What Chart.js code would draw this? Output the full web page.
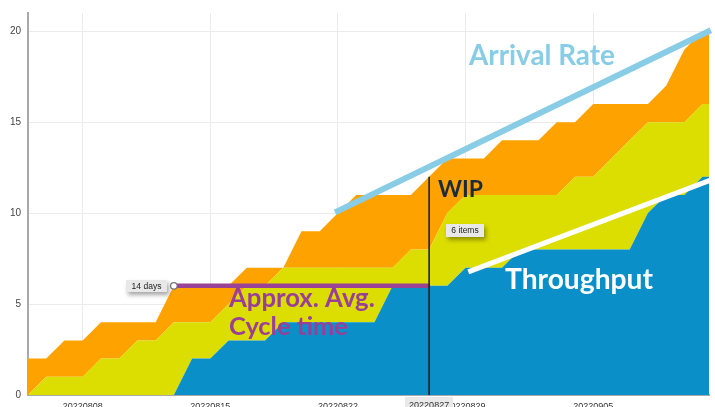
<!DOCTYPE html>
<html>
<head>
<meta charset="utf-8">
<script src="https://cdn.jsdelivr.net/npm/chart.js@4.4.1/dist/chart.umd.min.js"></script>
<style>
html, body { margin: 0; padding: 0; overflow: hidden; background: #fff; }
#wrap { width: 715px; height: 415px; }
</style>
</head>
<body>
<div id="wrap"><canvas id="cfd" width="715" height="415"></canvas></div>
<script>
// one entry per day, cumulative counts
const dates = ['20220805','20220806','20220807','20220808','20220809','20220810','20220811','20220812',
    '20220813','20220814','20220815','20220816','20220817','20220818','20220819','20220820','20220821',
    '20220822','20220823','20220824','20220825','20220826','20220827','20220828','20220829','20220830',
    '20220831','20220901','20220902','20220903','20220904','20220905','20220906','20220907','20220908',
    '20220909','20220910','20220911','20220912']
const arrived = [2,2,3,3,4,4,4,4,6,6,6,6,7,7,7,9,9,10,11,11,11,11,12,13,13,13,14,14,14,15,15,16,16,16,16,17,19,20,20]
const started = [0,1,1,1,2,2,3,3,4,4,4,5,6,6,7,7,7,7,7,7,7,8,8,10,11,11,11,11,11,11,12,12,13,14,15,15,15,16,16]
const done = [0,0,0,0,0,0,0,0,0,2,2,3,3,3,4,4,4,4,4,4,6,6,6,6,7,7,7,8,8,8,8,8,8,8,10,11,11,12,12]
const weekTicks = [3, 10, 17, 24, 31]
const yTicks = [0, 5, 10, 15, 20]

function points(values) {
    return values.map(function (v, i) { return {x: i, y: v} })
}

// hand drawn markup on top of the chart
const markup = {
    id: 'markup',
    afterDraw: function (chart) {
        let ctx = chart.ctx
        let x = chart.scales.x
        let y = chart.scales.y
        let px = function (d) { return x.getPixelForValue(d) }
        let py = function (v) { return y.getPixelForValue(v) }

        function line(x1, y1, x2, y2, color, width) {
            ctx.save()
            ctx.strokeStyle = color
            ctx.lineWidth = width
            ctx.beginPath()
            ctx.moveTo(x1, y1)
            ctx.lineTo(x2, y2)
            ctx.stroke()
            ctx.restore()
        }

        function bigText(text, left, baseline, width, color) {
            ctx.save()
            ctx.font = 'bold 24px Lato'
            let size = 24 * width / ctx.measureText(text).width
            ctx.font = 'bold ' + size.toFixed(1) + 'px Lato'
            ctx.fillStyle = color
            ctx.textBaseline = 'alphabetic'
            ctx.fillText(text, left, baseline)
            ctx.restore()
        }

        function tag(text, left, top, w, h) {
            ctx.save()
            ctx.shadowColor = 'rgba(0,0,0,0.35)'
            ctx.shadowBlur = 4
            ctx.shadowOffsetX = 2
            ctx.shadowOffsetY = 3
            ctx.fillStyle = '#e8e8e8'
            ctx.fillRect(left, top, w, h)
            ctx.restore()
            ctx.save()
            ctx.font = '8.5px "Liberation Sans"'
            ctx.fillStyle = '#222'
            ctx.textAlign = 'center'
            ctx.textBaseline = 'middle'
            ctx.fillText(text, left + w / 2, top + h / 2 + 0.5)
            ctx.restore()
        }

        // arrival rate and throughput
        line(px(16.84), py(10.04), px(37.45), py(20.05), '#88cde5', 6)
        line(px(24.15), py(6.77), px(37.4), py(11.8), '#ffffff', 5)

        // cycle time
        line(px(8), py(6), px(22), py(6), '#9a4296', 4.5)
        ctx.save()
        ctx.fillStyle = '#fff'
        ctx.strokeStyle = '#777'
        ctx.lineWidth = 1.2
        ctx.beginPath()
        ctx.arc(px(8), py(6), 3.3, 0, Math.PI * 2)
        ctx.fill()
        ctx.stroke()
        ctx.restore()

        // WIP
        line(px(22), py(12), px(22), py(0), '#1e1e1e', 1.6)

        tag('14 days', 126, 280, 41, 12)
        tag('6 items', 446, 224, 38, 13)

        bigText('Arrival Rate', 469, 65, 146, '#88cde5')
        bigText('WIP', 438, 197, 45, '#1d2a3a')
        bigText('Approx. Avg.', 229, 307, 146, '#9a3f97')
        bigText('Cycle time', 229, 335, 119, '#9a3f97')
        bigText('Throughput', 505, 289, 148, '#ffffff')

        // highlighted date on the axis
        ctx.save()
        ctx.fillStyle = '#e9e9e9'
        ctx.fillRect(px(22) - 24, 397, 48, 14)
        ctx.font = '9px "Liberation Sans"'
        ctx.fillStyle = '#333'
        ctx.textAlign = 'center'
        ctx.textBaseline = 'top'
        ctx.fillText('20220827', px(22), 401)
        ctx.restore()
    }
}

let ctx = document.getElementById('cfd').getContext('2d')

let cfd = new Chart(ctx, {
    type: 'line',
    data: {
        datasets: [{
            label: 'Done',
            data: points(done),
            backgroundColor: '#0a8fc9',
            fill: 'origin'
        }, {
            label: 'In progress',
            data: points(started),
            backgroundColor: '#dcdd00',
            fill: '-1'
        }, {
            label: 'To do',
            data: points(arrived),
            backgroundColor: '#fea200',
            fill: '-1'
        }]
    },
    options: {
        responsive: false,
        animation: false,
        devicePixelRatio: 1,
        elements: {
            line: { borderWidth: 0, tension: 0 },
            point: { radius: 0, hoverRadius: 0 }
        },
        layout: { padding: { top: 10, right: 6, left: 0, bottom: 0 } },
        plugins: {
            legend: { display: false },
            tooltip: { enabled: false }
        },
        scales: {
            x: {
                type: 'linear',
                min: 0,
                max: 37.35,
                afterBuildTicks: function (scale) {
                    scale.ticks = weekTicks.map(function (v) { return {value: v} })
                },
                afterFit: function (scale) { scale.height = 20 },
                grid: { color: '#ebebeb', drawTicks: false },
                border: { color: '#a9a9a9', width: 2 },
                ticks: {
                    callback: function (v) { return dates[v] },
                    autoSkip: false,
                    maxRotation: 0,
                    padding: 6,
                    color: '#333',
                    font: { size: 9, family: 'Liberation Sans' }
                }
            },
            y: {
                min: 0,
                max: 21,
                afterBuildTicks: function (scale) {
                    scale.ticks = yTicks.map(function (v) { return {value: v} })
                },
                afterFit: function (scale) { scale.width = 28 },
                grid: { color: '#ebebeb', drawTicks: false },
                border: { color: '#a9a9a9', width: 2 },
                ticks: {
                    padding: 7,
                    color: '#444',
                    font: { size: 10, family: 'Liberation Sans' }
                }
            }
        }
    },
    plugins: [markup]
})
</script>
</body>
</html>
